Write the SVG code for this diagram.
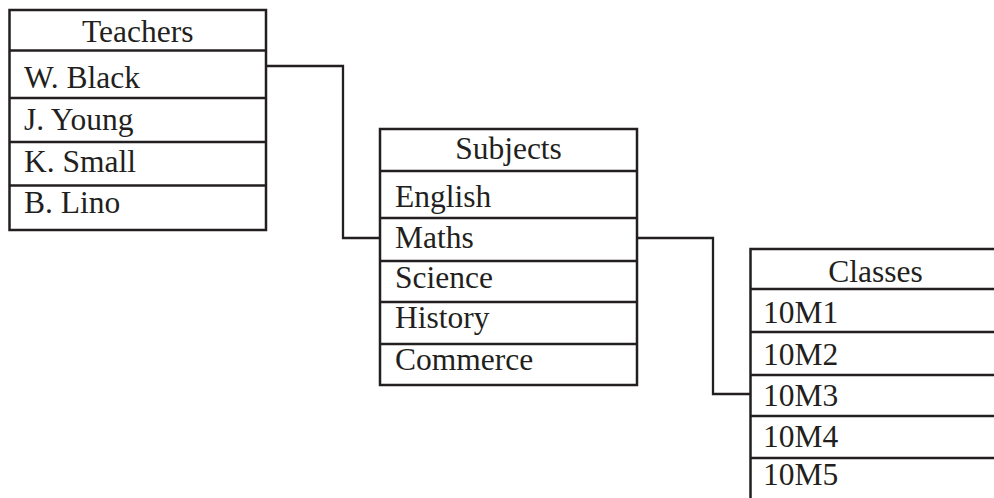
<svg xmlns="http://www.w3.org/2000/svg" width="994" height="498" viewBox="0 0 994 498">
  <style>
    .box { fill: #ffffff; stroke: #231f20; stroke-width: 2.5; }
    .rule { stroke: #231f20; stroke-width: 2.5; fill: none; }
    .link { stroke: #231f20; stroke-width: 2.3; fill: none; }
    text { font-family: "Liberation Serif", "Times New Roman", serif; font-size: 31.5px; fill: #231f20; }
    .head { text-anchor: middle; }
  </style>
  <rect width="994" height="498" fill="#ffffff"/>

  <!-- connectors between tables -->
  <g id="connectors">
    <polyline class="link" points="266,66 343,66 343,238 380,238"/>
    <polyline class="link" points="637,238 713,238 713,394 750,394"/>
  </g>

  <!-- Teachers table -->
  <g id="teachers">
    <rect class="box" x="9.5" y="10" width="256.5" height="220"/>
    <line class="rule" x1="9.5" y1="50.5" x2="266" y2="50.5"/>
    <line class="rule" x1="9.5" y1="98" x2="266" y2="98"/>
    <line class="rule" x1="9.5" y1="142" x2="266" y2="142"/>
    <line class="rule" x1="9.5" y1="185.5" x2="266" y2="185.5"/>
    <text class="head" x="137.8" y="42">Teachers</text>
    <text x="24" y="88">W. Black</text>
    <text x="24" y="130">J. Young</text>
    <text x="24" y="172">K. Small</text>
    <text x="24" y="213">B. Lino</text>
  </g>

  <!-- Subjects table -->
  <g id="subjects">
    <rect class="box" x="380" y="129" width="257" height="256"/>
    <line class="rule" x1="380" y1="171" x2="637" y2="171"/>
    <line class="rule" x1="380" y1="218" x2="637" y2="218"/>
    <line class="rule" x1="380" y1="261" x2="637" y2="261"/>
    <line class="rule" x1="380" y1="302" x2="637" y2="302"/>
    <line class="rule" x1="380" y1="344" x2="637" y2="344"/>
    <text class="head" x="508.5" y="159">Subjects</text>
    <text x="395" y="207">English</text>
    <text x="395" y="248">Maths</text>
    <text x="395" y="288">Science</text>
    <text x="395" y="328">History</text>
    <text x="395" y="370">Commerce</text>
  </g>

  <!-- Classes table (runs past the right and bottom edges) -->
  <g id="classes">
    <rect class="box" x="750.5" y="249" width="260" height="270"/>
    <line class="rule" x1="750.5" y1="289" x2="1000" y2="289"/>
    <line class="rule" x1="750.5" y1="332" x2="1000" y2="332"/>
    <line class="rule" x1="750.5" y1="375" x2="1000" y2="375"/>
    <line class="rule" x1="750.5" y1="416" x2="1000" y2="416"/>
    <line class="rule" x1="750.5" y1="458" x2="1000" y2="458"/>
    <text class="head" x="875.5" y="282">Classes</text>
    <text x="763" y="323">10M1</text>
    <text x="763" y="365">10M2</text>
    <text x="763" y="406">10M3</text>
    <text x="763" y="447">10M4</text>
    <text x="763" y="485">10M5</text>
  </g>
</svg>
